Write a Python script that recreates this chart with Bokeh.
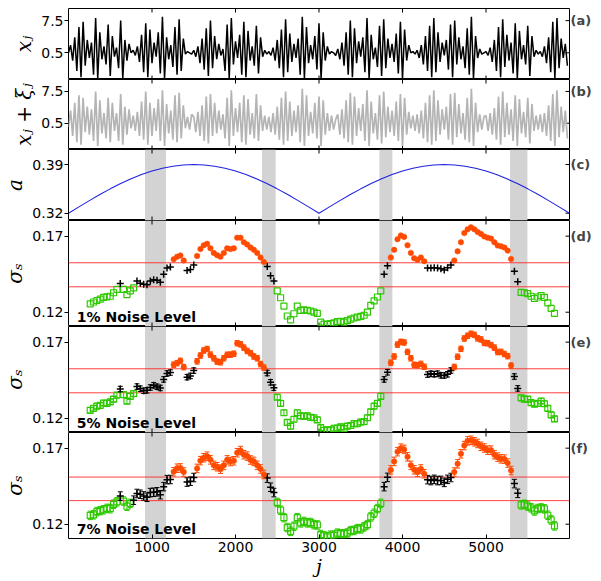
import math
from bokeh.plotting import figure
from bokeh.layouts import column
from bokeh.models import Range1d, FixedTicker, LinearAxis, BoxAnnotation, Span, Label, ColumnDataSource
from bokeh.embed import file_html
from bokeh.resources import INLINE

# ---------------- data ----------------
# (a) x_j and (b) x_j + xi_j, read off the picture (hundredths), sampled every 25 steps
j_sig = list(range(0, 6000, 25))
x_sig = [
    50, 56, 44, 62, 36, 70, 31, 74, 40, 60, 46, 58, 33, 77, 30, 66, 45, 55, 41, 72,
    32, 63, 47, 54, 38, 75, 30, 60, 44, 57, 50, 52, 48, 55, 43, 64, 35, 73, 31, 68,
    42, 58, 47, 66, 34, 78, 30, 62, 45, 56, 39, 70, 33, 76, 36, 61, 49, 51, 50, 49,
    52, 47, 55, 42, 61, 37, 69, 32, 75, 38, 63, 45, 57, 48, 53, 36, 72, 30, 77, 41,
    59, 46, 64, 33, 74, 31, 67, 44, 55, 40, 71, 34, 62, 47, 52, 49, 51, 48, 54, 44,
    60, 38, 68, 31, 76, 35, 65, 43, 57, 46, 61, 33, 78, 30, 70, 42, 56, 45, 63, 37,
    73, 30, 66, 44, 55, 49, 51, 50, 48, 53, 45, 58, 40, 66, 33, 75, 31, 69, 42, 59,
    47, 62, 35, 77, 30, 64, 45, 54, 39, 71, 32, 76, 38, 61, 46, 57, 43, 65, 34, 74,
    30, 68, 44, 56, 50, 51, 49, 52, 46, 56, 41, 63, 36, 71, 31, 77, 35, 66, 43, 58,
    48, 60, 37, 72, 31, 75, 41, 62, 45, 55, 38, 69, 33, 78, 30, 63, 46, 53, 49, 50,
    51, 48, 54, 43, 60, 36, 70, 31, 76, 39, 64, 44, 58, 34, 73, 30, 67, 45, 56, 41,
    71, 32, 63, 47, 52, 49, 51, 47, 55, 42, 62, 35, 74, 30, 77, 38, 61, 46, 57, 40,
]
xn_sig = [
    47, 60, 40, 66, 35, 72, 33, 70, 43, 63, 41, 61, 36, 75, 32, 68, 42, 58, 38, 70,
    35, 66, 44, 58, 36, 73, 33, 63, 41, 61, 46, 56, 44, 59, 40, 67, 37, 75, 33, 66,
    40, 62, 44, 69, 36, 76, 32, 65, 42, 60, 37, 72, 35, 74, 38, 64, 46, 55, 45, 57,
    55, 43, 59, 40, 64, 36, 71, 34, 73, 40, 66, 42, 60, 45, 57, 38, 70, 32, 76, 40,
    62, 43, 66, 35, 72, 33, 69, 41, 58, 38, 73, 36, 64, 44, 56, 45, 55, 43, 58, 41,
    63, 37, 70, 33, 75, 36, 67, 40, 60, 43, 64, 35, 77, 32, 72, 40, 59, 42, 66, 38,
    71, 32, 68, 41, 58, 44, 56, 45, 53, 57, 41, 61, 38, 68, 35, 74, 33, 71, 40, 62,
    44, 65, 36, 76, 32, 67, 42, 58, 37, 72, 34, 75, 39, 63, 43, 60, 40, 67, 36, 73,
    32, 70, 41, 59, 46, 56, 44, 57, 42, 60, 38, 66, 35, 72, 33, 76, 36, 68, 41, 61,
    45, 63, 37, 73, 33, 74, 39, 65, 42, 58, 37, 70, 35, 77, 32, 66, 43, 57, 45, 55,
    56, 44, 58, 41, 62, 37, 71, 33, 75, 39, 66, 41, 61, 36, 72, 32, 69, 42, 59, 39,
    70, 34, 65, 44, 56, 45, 57, 43, 58, 40, 64, 36, 73, 32, 76, 39, 63, 43, 60, 38,
]

# (c) parameter a
j_a = list(range(0, 6001, 125))
a_vals = [
    0.3200, 0.3291, 0.3381, 0.3468, 0.3550, 0.3626, 0.3695, 0.3755, 0.3806, 0.3847,
    0.3876, 0.3894, 0.3900, 0.3894, 0.3876, 0.3847, 0.3806, 0.3755, 0.3695, 0.3626,
    0.3550, 0.3468, 0.3381, 0.3291, 0.3200, 0.3291, 0.3381, 0.3468, 0.3550, 0.3626,
    0.3695, 0.3755, 0.3806, 0.3847, 0.3876, 0.3894, 0.3900, 0.3894, 0.3876, 0.3847,
    0.3806, 0.3755, 0.3695, 0.3626, 0.3550, 0.3468, 0.3381, 0.3291, 0.3200,
]

# (d)-(f) sigma_S
j_s = list(range(260, 5821, 40))
sig_1 = [
    .1255, .1267, .1277, .1286, .1297, .1301, .1305, .1328, .1350, .1388,
    .1350, .1316, .1340, .1360, .1405, .1390, .1384, .1380, .1405, .1413,
    .1410, .1397, .1450, .1490, .1497, .1548, .1565, .1573, .1540, .1474,
    .1480, .1510, .1570, .1615, .1640, .1650, .1620, .1590, .1575, .1565,
    .1590, .1620, .1615, .1620, .1690, .1690, .1660, .1645, .1625, .1610,
    .1590, .1560, .1530, .1500, .1440, .1405, .1340, .1295, .1240, .1175,
    .1150, .1190, .1240, .1212, .1215, .1212, .1208, .1200, .1192, .1135,
    .1122, .1120, .1125, .1130, .1138, .1140, .1135, .1145, .1155, .1162,
    .1168, .1172, .1180, .1200, .1245, .1275, .1300, .1340, .1450, .1505,
    .1560, .1610, .1680, .1705, .1695, .1640, .1590, .1555, .1545, .1560,
    .1535, .1490, .1490, .1492, .1490, .1485, .1478, .1492, .1510, .1540,
    .1600, .1660, .1720, .1745, .1758, .1745, .1728, .1715, .1698, .1690,
    .1684, .1660, .1638, .1633, .1625, .1605, .1550, .1470, .1400, .1330,
    .1328, .1322, .1305, .1290, .1300, .1310, .1298, .1262, .1225, .1192,
]
sig_5 = [
    .1252, .1265, .1280, .1284, .1300, .1298, .1308, .1325, .1352, .1392,
    .1355, .1312, .1344, .1362, .1408, .1394, .1380, .1384, .1402, .1416,
    .1407, .1399, .1455, .1494, .1500, .1552, .1562, .1577, .1536, .1470,
    .1478, .1513, .1574, .1612, .1645, .1655, .1618, .1594, .1572, .1568,
    .1594, .1617, .1618, .1624, .1693, .1686, .1664, .1642, .1628, .1606,
    .1594, .1556, .1533, .1497, .1436, .1401, .1338, .1297, .1236, .1172,
    .1147, .1193, .1236, .1215, .1212, .1216, .1205, .1203, .1189, .1138,
    .1120, .1124, .1122, .1133, .1135, .1143, .1132, .1148, .1152, .1165,
    .1165, .1175, .1177, .1203, .1242, .1279, .1297, .1344, .1455, .1502,
    .1565, .1606, .1684, .1702, .1698, .1636, .1594, .1551, .1548, .1557,
    .1538, .1487, .1493, .1489, .1493, .1482, .1481, .1489, .1514, .1537,
    .1604, .1656, .1724, .1742, .1755, .1748, .1725, .1718, .1695, .1693,
    .1681, .1664, .1635, .1636, .1622, .1608, .1546, .1474, .1396, .1334,
    .1325, .1325, .1302, .1293, .1297, .1313, .1295, .1265, .1222, .1195,
]
sig_7 = [
    .1258, .1262, .1283, .1289, .1295, .1304, .1302, .1331, .1347, .1385,
    .1352, .1318, .1337, .1358, .1402, .1397, .1386, .1377, .1408, .1410,
    .1413, .1394, .1447, .1493, .1494, .1545, .1568, .1570, .1543, .1477,
    .1483, .1507, .1567, .1618, .1637, .1647, .1623, .1587, .1578, .1562,
    .1587, .1623, .1612, .1617, .1670, .1684, .1657, .1648, .1622, .1613,
    .1587, .1563, .1527, .1503, .1443, .1408, .1343, .1292, .1243, .1178,
    .1153, .1187, .1243, .1209, .1218, .1209, .1211, .1197, .1195, .1132,
    .1125, .1117, .1128, .1127, .1141, .1137, .1138, .1142, .1158, .1159,
    .1171, .1169, .1183, .1197, .1248, .1272, .1303, .1337, .1447, .1508,
    .1557, .1613, .1677, .1700, .1692, .1643, .1587, .1558, .1542, .1563,
    .1532, .1493, .1487, .1495, .1487, .1488, .1475, .1495, .1507, .1543,
    .1597, .1663, .1717, .1748, .1752, .1742, .1731, .1712, .1701, .1687,
    .1687, .1657, .1641, .1630, .1628, .1602, .1553, .1467, .1403, .1327,
    .1331, .1319, .1308, .1287, .1303, .1307, .1301, .1259, .1228, .1189,
]
sig_err = [0.0, 0.0018, 0.0028]
thr_hi = [0.1525, 0.1525, 0.1510]
thr_lo = [0.1367, 0.1367, 0.1355]
noise_labels = ["1% Noise Level", "5% Noise Level", "7% Noise Level"]
band_left = [916, 2317, 3723, 5288]
band_right = [1168, 2481, 3879, 5496]
x_ticks = [1000, 2000, 3000, 4000, 5000]
panel_tags = ["(a)", "(b)", "(c)", "(d)", "(e)", "(f)"]
y_titles = ["xⱼ", "xⱼ + ξⱼ", "a", "σₛ", "σₛ", "σₛ"]

# ---------------- styling ----------------
LEFT = 67
RIGHT = 26
FW = 502
W = LEFT + FW + RIGHT
FONT = "DejaVu Sans"
GREEN = "#2ec800"
ORANGE = "#ff4a00"
X0, X1 = 0, 6000
xr = Range1d(X0, X1)


def make_fig(fh, ylo, yhi, yticks, overrides, ylabel, tag, bottom=False, top=0):
    bot = 42 if bottom else 0
    p = figure(width=W, height=fh + top + bot, x_range=xr, y_range=Range1d(ylo, yhi),
               output_backend="svg", toolbar_location=None,
               min_border_left=LEFT, min_border_right=RIGHT, min_border_top=top,
               min_border_bottom=bot)
    p.grid.visible = False
    p.outline_line_color = "black"
    p.outline_line_width = 1
    p.background_fill_color = "white"
    p.border_fill_color = "white"
    # left axis
    ya = p.yaxis[0]
    ya.ticker = FixedTicker(ticks=yticks)
    ya.major_label_overrides = overrides
    ya.major_label_text_font = FONT
    ya.major_label_text_font_size = "14px"
    ya.major_label_text_color = "black"
    ya.major_label_standoff = 1
    ya.major_tick_in = 0
    ya.major_tick_out = 4
    ya.minor_tick_in = 0
    ya.minor_tick_out = 0
    ya.axis_line_color = None
    ya.axis_label = ylabel
    ya.axis_label_text_font = "DejaVu Serif"
    ya.axis_label_text_font_style = "italic"
    ya.axis_label_text_font_size = "20px"
    ya.axis_label_text_color = "black"
    ya.axis_label_standoff = 2
    # right axis carrying the panel tag
    ra = LinearAxis(ticker=FixedTicker(ticks=[yticks[-1]]),
                    major_label_overrides={yticks[-1]: tag},
                    major_label_text_font=FONT, major_label_text_font_style="bold",
                    major_label_text_font_size="13px", major_label_standoff=1,
                    major_tick_in=0, major_tick_out=0, minor_tick_in=0, minor_tick_out=0,
                    axis_line_color=None)
    p.add_layout(ra, "right")
    # inward tick marks on top / right (and bottom for inner panels)
    p.ray(x=x_ticks, y=[yhi] * len(x_ticks), length=4, length_units="screen",
          angle=-math.pi / 2, line_color="black", line_width=1)
    p.ray(x=[X1] * len(yticks), y=yticks, length=4, length_units="screen",
          angle=math.pi, line_color="black", line_width=1)
    if bottom:
        xa = p.xaxis[0]
        xa.ticker = FixedTicker(ticks=x_ticks)
        xa.major_tick_in = 4
        xa.major_tick_out = 0
        xa.minor_tick_in = 0
        xa.minor_tick_out = 0
        xa.axis_line_color = None
        xa.major_label_text_font = FONT
        xa.major_label_text_font_size = "14px"
        xa.major_label_text_color = "black"
        xa.major_label_standoff = 3
        xa.axis_label = "j"
        xa.axis_label_text_font = "DejaVu Serif"
        xa.axis_label_text_font_style = "italic"
        xa.axis_label_text_font_size = "19px"
        xa.axis_label_text_color = "black"
        xa.axis_label_standoff = 0
    else:
        p.xaxis.visible = False
        p.ray(x=x_ticks, y=[ylo] * len(x_ticks), length=4, length_units="screen",
              angle=math.pi / 2, line_color="black", line_width=1)
    return p


def add_bands(p):
    for l, r in zip(band_left, band_right):
        p.add_layout(BoxAnnotation(left=l, right=r, fill_color="#d3d3d3", fill_alpha=1.0,
                                   line_color=None, level="underlay"))


figs = []
# (a)
pa = make_fig(71, 0.293, 0.844, [0.5, 0.75], {0.75: "7.5"}, y_titles[0], panel_tags[0], top=8)
pa.line(j_sig, [v / 100 for v in x_sig], line_color="black", line_width=1.5)
figs.append(pa)
# (b)
pb = make_fig(70, 0.293, 0.844, [0.5, 0.75], {0.75: "7.5"}, y_titles[1], panel_tags[1])
pb.line(j_sig, [v / 100 for v in xn_sig], line_color="#b4b4b4", line_width=1.7)
figs.append(pb)
# (c)
pc = make_fig(71, 0.3095, 0.4116, [0.32, 0.39], {}, y_titles[2], panel_tags[2])
add_bands(pc)
pc.line(j_a, a_vals, line_color="#2020e0", line_width=1.1)
figs.append(pc)

sigs = [sig_1, sig_5, sig_7]
for k in range(3):
    p = make_fig(106, 0.1106, 0.1803, [0.12, 0.17], {}, y_titles[3 + k], panel_tags[3 + k],
                 bottom=(k == 2))
    add_bands(p)
    hi, lo, err = thr_hi[k], thr_lo[k], sig_err[k]
    for val in (hi, lo):
        p.add_layout(Span(location=val, dimension="width", line_color="#ff2020",
                          line_width=1, line_alpha=0.85, level="underlay"))
    vals = sigs[k]
    groups = {
        "g": [(j, v) for j, v in zip(j_s, vals) if v < lo],
        "k": [(j, v) for j, v in zip(j_s, vals) if lo <= v <= hi],
        "o": [(j, v) for j, v in zip(j_s, vals) if v > hi],
    }
    colors = {"g": GREEN, "k": "black", "o": ORANGE}
    for key in ("g", "k", "o"):
        xs = [t[0] for t in groups[key]]
        ys = [t[1] for t in groups[key]]
        src = ColumnDataSource(dict(x=xs, y=ys, up=[y + err for y in ys], dn=[y - err for y in ys]))
        c = colors[key]
        if err > 0:
            p.segment(x0="x", y0="dn", x1="x", y1="up", source=src, line_color=c, line_width=1)
            p.scatter(x="x", y="up", source=src, marker="dash", size=5, line_color=c, line_width=1)
            p.scatter(x="x", y="dn", source=src, marker="dash", size=5, line_color=c, line_width=1)
        if key == "g":
            p.scatter(x="x", y="y", source=src, marker="square", size=6, fill_alpha=0,
                      line_color=c, line_width=1.2)
        elif key == "k":
            p.scatter(x="x", y="y", source=src, marker="cross", size=7, line_color=c, line_width=1.5)
        else:
            p.scatter(x="x", y="y", source=src, marker="circle", size=5.5, fill_color=c,
                      line_color=c, line_width=0.5)
    p.add_layout(Label(x=100, y=0.1117, text=noise_labels[k], text_font=FONT,
                       text_font_style="bold", text_font_size="14px", text_color="black",
                       text_baseline="bottom"))
    figs.append(p)

layout = column(*figs, spacing=0)
open("out.html", "w").write(file_html(layout, INLINE))
